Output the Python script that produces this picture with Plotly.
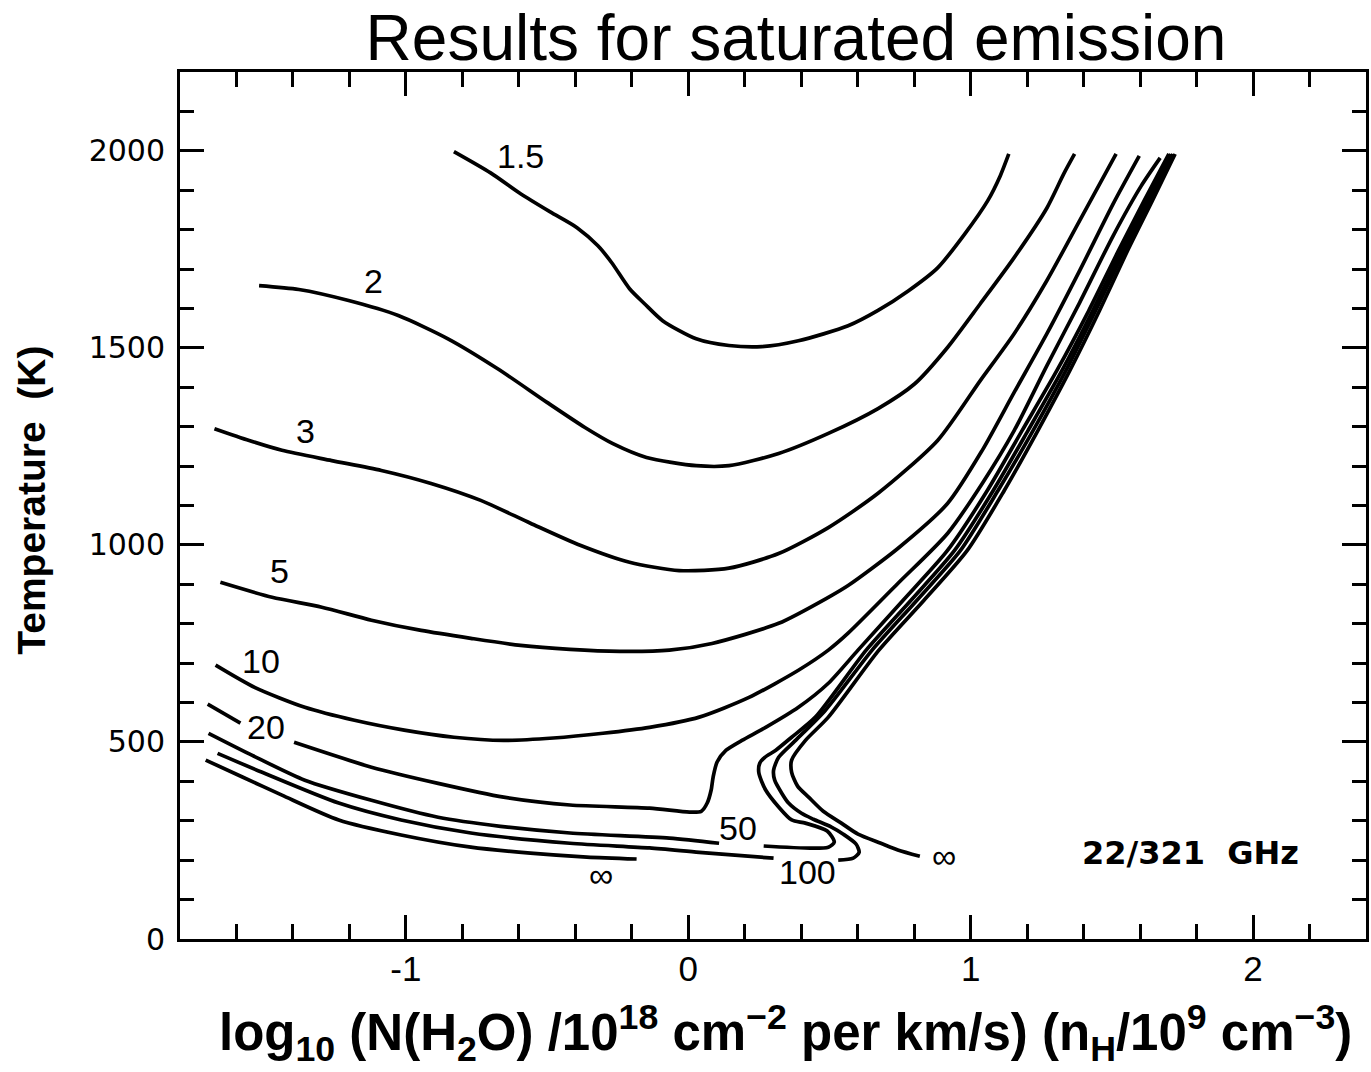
import plotly.graph_objects as go

# ---- contour curves: x = log10 column density, T = temperature (K) ----
C15_X = [-0.830, -0.700, -0.594, -0.489, -0.394, -0.320, -0.271, -0.208, -0.155, -0.091, 0.028, 0.144,
         0.260, 0.390, 0.566, 0.672, 0.780, 0.883, 0.980, 1.060, 1.105, 1.135]
C15_T = [1998, 1944, 1891, 1845, 1805, 1759, 1716, 1650, 1612, 1569, 1523, 1506,
         1503, 1518, 1556, 1595, 1645, 1703, 1790, 1873, 1937, 1992]

C2_X = [-1.520, -1.379, -1.203, -1.027, -0.851, -0.675, -0.499, -0.366, -0.267, -0.148, 0.028, 0.144,
        0.320, 0.496, 0.672, 0.802, 0.918, 1.034, 1.154, 1.270, 1.330, 1.368]
C2_T = [1658, 1648, 1620, 1582, 1523, 1447, 1361, 1298, 1257, 1222, 1201, 1201,
        1232, 1283, 1346, 1409, 1501, 1612, 1729, 1855, 1942, 1992]

C3_X = [-1.678, -1.555, -1.439, -1.263, -1.087, -0.911, -0.735, -0.559, -0.383, -0.208, -0.032,
        0.144, 0.320, 0.496, 0.672, 0.883, 1.034, 1.154, 1.270, 1.386, 1.515]
C3_T = [1295, 1265, 1240, 1214, 1189, 1156, 1113, 1055, 999, 956, 935,
        941, 978, 1044, 1131, 1265, 1417, 1536, 1671, 1823, 1992]

C5_X = [-1.657, -1.474, -1.298, -1.122, -0.946, -0.770, -0.594, -0.419, -0.243, -0.067, 0.084,
        0.320, 0.496, 0.566, 0.742, 0.918, 1.041, 1.154, 1.270, 1.386, 1.505, 1.597]
C5_T = [905, 867, 842, 809, 783, 763, 745, 735, 730, 733, 750,
        801, 867, 897, 991, 1105, 1240, 1387, 1536, 1696, 1866, 1987]

C10_X = [-1.674, -1.534, -1.358, -1.182, -1.006, -0.830, -0.654, -0.478, -0.302, -0.137, 0.039, 0.215,
         0.390, 0.496, 0.566, 0.742, 0.918, 1.041, 1.154, 1.270, 1.386, 1.505, 1.604, 1.671]
C10_T = [695, 638, 588, 555, 530, 512, 504, 510, 522, 537, 563, 613,
         682, 733, 776, 902, 1029, 1156, 1290, 1455, 1615, 1785, 1911, 1982]

C20_X = [-1.702, -1.586, None, -1.396, -1.122, -0.886, -0.654, -0.419, -0.137, 0.004,
         0.046, 0.067, 0.081, 0.088, 0.102, 0.134, 0.190, 0.274, 0.390, 0.496,
         0.601, 0.760, 0.918, 1.059, 1.182, 1.305, 1.418, 1.523, 1.614, 1.702]
C20_T = [596, 548, None, 499, 436, 395, 360, 340, 332, 322,
         324, 345, 378, 411, 449, 479, 504, 537, 588, 649,
         733, 859, 986, 1138, 1290, 1442, 1594, 1746, 1873, 1992]

C50_X = [-1.699, -1.544, -1.358, -1.122, -0.886, -0.665, -0.419, -0.067, 0.109, None,
         0.267, 0.496, 0.517, 0.492, 0.415, 0.366, 0.320, 0.274, 0.250, 0.253,
         0.271, 0.310, 0.366, 0.450, 0.630, 0.788, 0.943, 1.080, 1.203,
         1.323, 1.432, 1.534, 1.625, 1.709]
C50_T = [522, 466, 403, 352, 309, 286, 269, 256, 243, None,
         236, 233, 246, 274, 294, 302, 335, 378, 421, 446,
         461, 479, 512, 563, 733, 859, 986, 1138, 1290,
         1442, 1594, 1746, 1873, 1992]

C100_X = [-1.667, -1.509, -1.238, -1.017, -0.770, -0.419, -0.137, 0.039, 0.302, None,
          0.531, 0.584, 0.605, 0.594, 0.549, 0.507, 0.443, 0.401, 0.355, 0.331,
          0.306, 0.302, 0.320, 0.380, 0.485, 0.651, 0.809, 0.964, 1.097,
          1.221, 1.337, 1.442, 1.544, 1.632, 1.716]
C100_T = [471, 423, 345, 302, 269, 243, 231, 220, 205, None,
          200, 205, 220, 241, 266, 284, 304, 319, 345, 370,
          403, 428, 461, 504, 580, 733, 859, 986, 1138,
          1290, 1442, 1594, 1746, 1873, 1992]

CINF_R_X = [0.820, 0.742, 0.682, 0.601, 0.542, 0.478, 0.426, 0.387, 0.366, 0.366,
            0.415, 0.496, 0.675, 0.834, 0.988, 1.119, 1.238, 1.351, 1.456,
            1.555, 1.643, 1.724]
CINF_R_T = [210, 226, 243, 266, 294, 324, 360, 388, 423, 454,
            504, 563, 733, 859, 986, 1138, 1290, 1442, 1594,
            1746, 1873, 1992]

CINF_L_X = [-1.709, -1.579, -1.439, -1.238, -1.017, -0.770, -0.559, -0.359, -0.183]
CINF_L_T = [454, 411, 365, 302, 264, 233, 218, 208, 203]

CURVE_NAMES = ["1.5", "2", "3", "5", "10", "20", "50", "100", "∞ (low N)", "∞ (high N)"]
CURVES_X = [C15_X, C2_X, C3_X, C5_X, C10_X, C20_X, C50_X, C100_X, CINF_L_X, CINF_R_X]
CURVES_T = [C15_T, C2_T, C3_T, C5_T, C10_T, C20_T, C50_T, C100_T, CINF_L_T, CINF_R_T]

# ---- contour labels ----
LABEL_TEXT = ["1.5", "2", "3", "5", "10", "20", "50", "100", "∞", "∞"]
LABEL_X = [-0.594, -1.115, -1.354, -1.449, -1.512, -1.495, 0.176, 0.422, -0.310, 0.907]
LABEL_T = [1987, 1670, 1290, 933, 705, 537, 281, 170, 162, 210]

# ---- axes ----
X_RANGE = [-1.8, 2.4]
Y_RANGE = [0, 2200]
X_TICKS = [-1, 0, 1, 2]
X_TICK_TEXT = ["-1", "0", "1", "2"]
Y_TICKS = [0, 500, 1000, 1500, 2000]
Y_TICK_TEXT = ["0", "500", "1000", "1500", "2000"]

TITLE = "Results for saturated emission"
X_TITLE = ("log<sub>10</sub> (N(H<sub>2</sub>O) /10<sup>18</sup> cm<sup>\u22122</sup> per km/s) "
           "(n<sub>H</sub>/10<sup>9</sup> cm<sup>\u22123</sup>)")
Y_TITLE = "Temperature\u00a0\u00a0(K)"
FREQ_TEXT = "22/321\u00a0\u00a0GHz"

fig = go.Figure()
for name, xs, ts in zip(CURVE_NAMES, CURVES_X, CURVES_T):
    fig.add_trace(go.Scatter(
        x=xs, y=ts, mode="lines", name=name, showlegend=False,
        line=dict(color="black", width=3.7, shape="spline", smoothing=0.7),
        connectgaps=False, hoverinfo="skip",
    ))

for txt, lx, lt in zip(LABEL_TEXT, LABEL_X, LABEL_T):
    fig.add_annotation(x=lx, y=lt, xref="x", yref="y", text=txt, showarrow=False,
                       xanchor="center", yanchor="middle",
                       font=dict(family="Liberation Sans, Arial, sans-serif", size=34, color="black"))

fig.add_annotation(x=1.78, y=218, xref="x", yref="y", text=FREQ_TEXT, showarrow=False,
                   xanchor="center", yanchor="middle",
                   font=dict(family="DejaVu Sans, sans-serif", size=32, color="black", weight="bold"))

fig.add_annotation(x=0.5105, y=-0.0650, xref="paper", yref="paper", text=X_TITLE, showarrow=False,
                   xanchor="center", yanchor="top",
                   font=dict(family="Liberation Sans, Arial, sans-serif", size=51, color="black", weight="bold"))

fig.add_annotation(x=-0.1253, y=0.506, xref="paper", yref="paper", text=Y_TITLE, showarrow=False,
                   textangle=-90, xanchor="center", yanchor="middle",
                   font=dict(family="Liberation Sans, Arial, sans-serif", size=39, color="black", weight="bold"))

axis_common = dict(
    showgrid=False, zeroline=False, showline=True, linecolor="black", linewidth=3,
    mirror="allticks", ticks="inside", ticklen=24, tickwidth=3, tickcolor="black",
)

fig.update_layout(
    width=1371, height=1072,
    margin=dict(l=180, r=2, t=72, b=133),
    paper_bgcolor="white", plot_bgcolor="white",
    title=dict(text=TITLE, x=0.5806, xref="container", xanchor="center",
               y=1 - 38 / 1072, yref="container", yanchor="middle",
               font=dict(family="Liberation Sans, Arial, sans-serif", size=64, color="black")),
    xaxis=dict(range=X_RANGE, tickmode="array", tickvals=X_TICKS, ticktext=X_TICK_TEXT,
               tickfont=dict(family="Liberation Sans, Arial, sans-serif", size=35, color="black"),
               ticklabelstandoff=-3,
               minor=dict(tickmode="linear", tick0=0, dtick=0.2, ticks="inside", ticklen=15,
                          tickwidth=3, tickcolor="black", showgrid=False),
               **axis_common),
    yaxis=dict(range=Y_RANGE, tickmode="array", tickvals=Y_TICKS, ticktext=Y_TICK_TEXT,
               tickfont=dict(family="DejaVu Sans, sans-serif", size=30, color="black"),
               ticklabelstandoff=6,
               minor=dict(tickmode="linear", tick0=0, dtick=100, ticks="inside", ticklen=14,
                          tickwidth=3, tickcolor="black", showgrid=False),
               **axis_common),
)

fig.write_html("out.html", config={"displayModeBar": False},
               post_script="document.body.style.margin='0';")
